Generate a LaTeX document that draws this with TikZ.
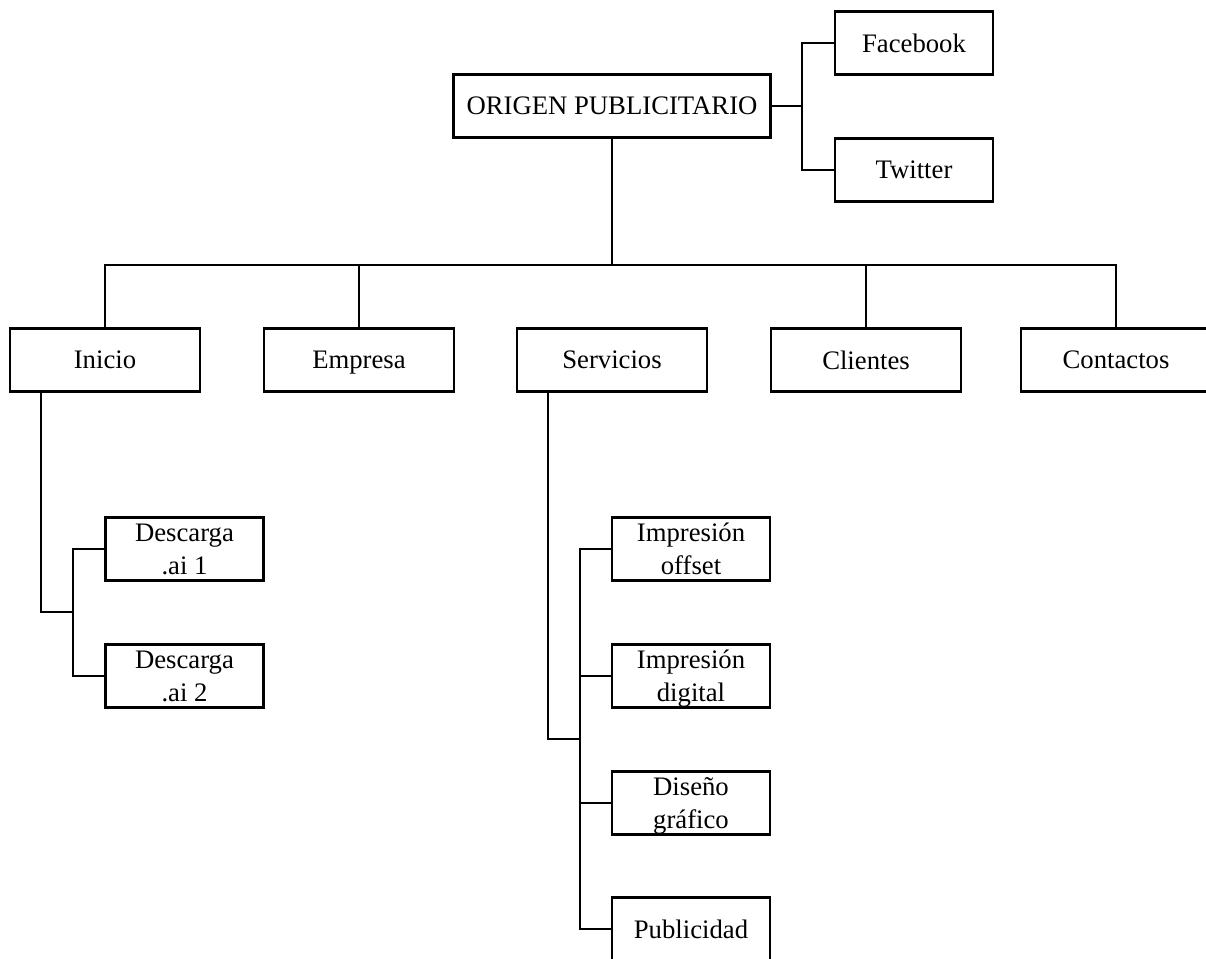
\documentclass[tikz,border=0pt]{standalone}
\usepackage{fontspec}
\setmainfont{Liberation Serif}
\begin{document}
\begin{tikzpicture}[x=0.02cm, y=-0.02cm, line width=1.2pt,
        box/.style={draw, line width=1.2pt, inner sep=0pt, align=center,
                    minimum height=1.26cm, text depth=0pt,
                    font=\fontsize{15.2}{19}\selectfont},
        mainbox/.style={box, minimum width=6.34cm},
        menubox/.style={box, minimum width=3.8cm},
        subbox/.style={box, minimum width=3.16cm}]
\useasboundingbox (0,0) rectangle (1206,958);
\node[mainbox] (root) at (612,106) {ORIGEN PUBLICITARIO}; % top
\node[subbox] (facebook) at (914,43) {Facebook}; % social
\node[subbox] (twitter) at (914,170) {Twitter}; % social
\node[menubox] (inicio) at (105,360) {Inicio}; % menu
\node[menubox] (empresa) at (359,360) {Empresa}; % menu
\node[menubox] (servicios) at (612,360) {Servicios}; % menu
\node[menubox] (clientes) at (866,360) {Clientes}; % menu
\node[menubox] (contactos) at (1116,360) {Contactos}; % menu
\node[subbox] (desc1) at (184.5,549) {Descarga\\.ai 1}; % inicio
\node[subbox] (desc2) at (184.5,676) {Descarga\\.ai 2}; % inicio
\node[subbox] (offset) at (691,549) {Impresión\\offset}; % servicios
\node[subbox] (digital) at (691,676) {Impresión\\digital}; % servicios
\node[subbox] (diseno) at (691,803) {Diseño\\gráfico}; % servicios
\node[subbox] (publi) at (691,929) {Publicidad}; % servicios
\coordinate (social) at (802,106);
\coordinate (bar) at (612,265);
\coordinate (inicioj) at (41,612);
\coordinate (inicior) at (73,612);
\coordinate (servj) at (548,739);
\coordinate (servr) at (580,739);
\draw (root.east) -- (social); % social
\draw (facebook.west) -| (social) |- (twitter.west); % social
\draw (root.south) -- (bar); % bar
\draw (inicio.north) |- (bar) -| (contactos.north); % bar
\draw (empresa.north) |- (bar); % bar
\draw (clientes.north) |- (bar); % bar
\draw (inicioj |- inicio.south) -- (inicioj) -- (inicior); % inicio
\draw (desc1.west) -| (inicior) |- (desc2.west); % inicio
\draw (servj |- servicios.south) -- (servj) -- (servr); % servicios
\draw (offset.west) -| (servr) |- (publi.west); % servicios
\draw (digital.west) -- (digital.west -| servr); % servicios
\draw (diseno.west) -- (diseno.west -| servr); % servicios
\end{tikzpicture}
\end{document}
